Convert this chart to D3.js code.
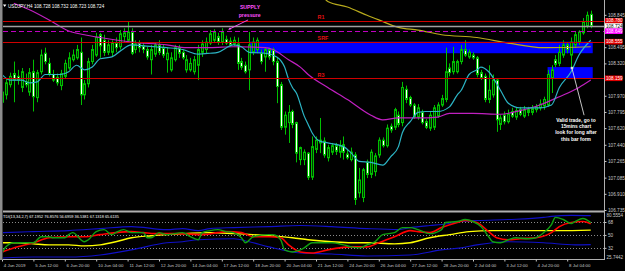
<!DOCTYPE html>
<html><head><meta charset="utf-8">
<script src="https://cdn.jsdelivr.net/npm/d3@7"></script>
<style>
html,body{margin:0;padding:0;background:#000;}
svg{display:block;font-family:"Liberation Sans",Arial,sans-serif;}
</style></head><body>
<svg id="chart" width="625" height="271"></svg>
<script>
// USDJPY H4 with MAs, S/R lines, zones + TDI sub-window.
const CANDLES = [ // [open, high, low, close]
[107.90,108.06,107.85,108.01],[107.98,108.16,107.93,108.11],[108.09,108.22,108.06,108.18],[108.21,108.34,107.90,108.14],
[108.18,108.25,108.09,108.14],[108.06,108.27,108.01,108.23],[108.12,108.21,108.06,108.09],[108.01,108.27,107.97,108.22],
[108.23,108.36,107.80,107.96],[107.95,108.25,107.90,108.22],[108.23,108.47,108.20,108.41],[108.43,108.49,108.31,108.34],
[108.32,108.38,108.18,108.21],[108.20,108.25,108.12,108.14],[108.17,108.21,108.08,108.11],[108.08,108.25,108.03,108.21],
[108.18,108.36,108.16,108.32],[108.27,108.44,108.25,108.38],[108.36,108.47,108.34,108.41],[108.38,108.52,108.36,108.47],
[108.44,108.60,107.87,107.98],[107.98,108.14,107.93,108.10],[108.10,108.38,108.06,108.34],[108.34,108.52,108.31,108.47],
[108.41,108.65,108.39,108.60],[108.63,108.65,108.38,108.51],[108.57,108.63,108.40,108.44],[108.44,108.57,108.41,108.52],
[108.44,108.57,108.40,108.54],[108.54,108.60,108.44,108.49],[108.50,108.68,108.47,108.64],[108.61,108.70,108.55,108.65],
[108.57,108.77,108.55,108.66],[108.66,108.70,108.41,108.43],[108.47,108.57,108.43,108.53],[108.54,108.57,108.44,108.49],
[108.51,108.55,108.43,108.47],[108.47,108.50,108.36,108.39],[108.36,108.52,108.20,108.47],[108.42,108.55,108.39,108.52],
[108.52,108.57,108.41,108.44],[108.49,108.52,108.38,108.41],[108.36,108.49,108.22,108.43],[108.25,108.44,108.23,108.38],
[108.36,108.52,108.34,108.49],[108.49,108.52,108.38,108.43],[108.44,108.47,108.36,108.38],[108.25,108.41,108.22,108.36],
[108.25,108.38,108.23,108.32],[108.23,108.40,108.20,108.36],[108.30,108.52,108.14,108.47],[108.44,108.57,108.39,108.53],
[108.47,108.60,108.43,108.55],[108.54,108.68,108.52,108.64],[108.57,108.69,108.54,108.66],[108.61,108.65,108.52,108.55],
[108.55,108.70,108.52,108.66],[108.58,108.62,108.52,108.54],[108.56,108.60,108.50,108.52],[108.53,108.61,108.51,108.57],
[108.53,108.60,108.25,108.32],[108.34,108.38,108.25,108.28],[108.30,108.34,108.21,108.23],[108.25,108.66,108.03,108.52],
[108.44,108.60,108.41,108.55],[108.47,108.60,108.43,108.57],[108.43,108.47,108.31,108.34],[108.39,108.49,108.23,108.47],
[108.47,108.49,108.36,108.39],[108.47,108.49,108.30,108.34],[108.34,108.38,107.89,108.07],[108.09,108.12,107.60,107.63],
[107.63,107.80,107.55,107.76],[107.68,107.87,107.46,107.79],[107.80,107.82,107.62,107.66],[107.68,107.69,107.25,107.35],
[107.28,107.42,107.22,107.41],[107.28,107.39,107.22,107.36],[107.35,107.36,107.06,107.09],[107.09,107.53,107.06,107.42],
[107.39,107.53,107.35,107.49],[107.49,107.73,107.35,107.46],[107.48,107.52,107.30,107.33],[107.30,107.44,107.26,107.41],
[107.36,107.46,107.33,107.43],[107.43,107.46,107.33,107.37],[107.36,107.49,107.30,107.43],[107.44,107.53,107.28,107.36],
[107.34,107.39,107.28,107.30],[107.28,107.41,107.26,107.36],[107.33,107.36,106.79,106.85],[106.92,107.19,106.87,107.06],
[106.87,107.19,106.82,107.17],[107.25,107.28,107.08,107.12],[107.12,107.39,107.08,107.36],[107.15,107.35,107.10,107.32],
[107.33,107.52,107.30,107.49],[107.49,107.52,107.41,107.43],[107.43,107.66,107.41,107.62],[107.64,107.67,107.57,107.60],
[107.63,107.84,107.60,107.82],[107.76,107.80,107.63,107.66],[107.68,108.12,107.64,108.06],[108.04,108.08,107.89,107.93],
[107.95,107.97,107.85,107.87],[107.87,107.89,107.72,107.74],[107.74,107.88,107.71,107.84],[107.79,107.82,107.66,107.68],
[107.69,107.72,107.61,107.63],[107.62,107.80,107.59,107.76],[107.63,107.87,107.60,107.84],[107.75,107.90,107.73,107.87],
[107.87,107.98,107.85,107.94],[107.93,108.49,107.90,108.23],[108.27,108.32,108.18,108.22],[108.23,108.50,108.20,108.34],
[108.23,108.36,108.21,108.34],[108.34,108.52,108.31,108.47],[108.47,108.57,108.39,108.41],[108.39,108.47,108.37,108.44],
[108.41,108.44,108.36,108.38],[108.38,108.40,108.17,108.20],[108.22,108.25,108.14,108.16],[108.18,108.21,107.90,107.93],
[107.93,108.30,107.89,108.03],[107.98,108.20,107.95,108.14],[108.14,108.16,107.58,107.71],[107.66,107.76,107.60,107.73],
[107.76,107.80,107.66,107.69],[107.69,107.82,107.67,107.77],[107.80,107.84,107.73,107.75],[107.74,107.84,107.71,107.81],
[107.82,107.85,107.75,107.77],[107.75,107.86,107.73,107.82],[107.82,107.85,107.75,107.79],[107.79,107.87,107.76,107.83],
[107.82,107.88,107.79,107.85],[107.84,107.93,107.81,107.88],[107.86,107.96,107.82,107.93],[107.87,108.25,107.85,108.20],
[108.16,108.30,108.00,108.25],[108.36,108.41,108.28,108.31],[108.32,108.52,108.29,108.44],[108.41,108.57,108.38,108.52],
[108.52,108.55,108.43,108.47],[108.41,108.60,108.27,108.55],[108.52,108.66,108.49,108.63],[108.55,108.68,108.52,108.66],
[108.65,108.81,108.63,108.77],[108.72,108.88,108.70,108.84],[108.85,108.89,108.70,108.72]
];

// moving averages: [bar index, price]
const MA_FAST = [[0,108.20],[2,108.14],[5,108.14],[7,108.11],[9,108.12],[11,108.20],[15,108.20],[17,108.23],[19,108.30],[21,108.25],[23,108.28],[25,108.37],[28,108.39],[30,108.45],[33,108.52],[36,108.51],[39,108.50],[42,108.49],[46,108.47],[50,108.42],[53,108.43],[55,108.44],[59,108.52],[61,108.50],[63,108.44],[67,108.43],[70,108.39],[72,108.28],[73,108.15],[74,108.06],[75,108.00],[77,107.75],[78,107.66],[79,107.57],[80,107.51],[81,107.48],[83,107.46],[87,107.42],[89,107.35],[91,107.26],[94,107.25],[97,107.22],[99,107.31],[101,107.42],[102,107.57],[104,107.69],[106,107.79],[108,107.80],[111,107.80],[114,107.85],[116,107.98],[117,108.03],[119,108.20],[121,108.25],[122,108.28],[124,108.23],[127,108.03],[129,107.89],[132,107.84],[137,107.84],[140,107.87],[142,108.06],[145,108.23],[147,108.41],[150,108.57]];
const MA_MID = [[3,108.97],[7,108.90],[12,108.79],[17,108.67],[21,108.63],[25,108.60],[33,108.55],[42,108.52],[47,108.49],[53,108.49],[59,108.50],[67,108.49],[69,108.47],[73,108.36],[76,108.28],[78,108.20],[83,108.06],[88,107.93],[94,107.76],[97,107.71],[101,107.73],[106,107.73],[111,107.74],[114,107.78],[120,107.78],[127,107.77],[132,107.81],[137,107.87],[142,107.96],[147,108.06],[150,108.14]];
const MA_SLOW = [[82,109.03],[83,108.99],[88,108.93],[93,108.84],[96,108.79],[101,108.71],[106,108.68],[112,108.63],[121,108.60],[129,108.54],[138,108.49],[150,108.50]];

const LEVELS = [{name:"R1", price:108.780, label:"108.780"}, {name:"SRF", price:108.555, label:"108.555"}, {name:"R3", price:108.159, label:"108.159"}];
const BID = {price:108.724, label:"108.724"};
const DASH_LEVEL = {price:108.668, label:"108.649"};
const ZONES = [{from:63, to:150.5, top:108.555, bottom:108.43}, {from:139, to:150.5, top:108.28, bottom:108.159}];
// 108.670 and 108.145 sit under the marker boxes, so they are not shown
const PRICE_TICKS = [106.735,106.910,107.085,107.265,107.440,107.620,107.795,107.970,108.320,108.495,108.845];
const TIME_LABELS = ["4 Jun 2019","5 Jun 12:00","6 Jun 20:00","10 Jun 04:00","11 Jun 12:00","12 Jun 20:00","14 Jun 04:00","17 Jun 12:00","18 Jun 20:00","20 Jun 04:00","21 Jun 12:00","24 Jun 20:00","26 Jun 04:00","27 Jun 12:00","28 Jun 20:00","2 Jul 04:00","3 Jul 12:00","4 Jul 20:00","8 Jul 04:00"];
const NOTE_LINES = ["Valid trade, go to","15mins chart","look for long after","this bar form"];

// TDI: [bar index, value]
const TDI_RSI = [[0,24.9],[1,33.4],[3,39.1],[5,39.1],[8,39.1],[10,47.5],[12,47.5],[13,46.1],[16,46.1],[17,50.4],[18,53.2],[21,40.5],[22,43.3],[24,54.6],[26,57.4],[28,50.4],[29,53.2],[31,57.4],[33,53.2],[36,53.2],[37,46.1],[38,46.1],[40,53.2],[42,50.4],[46,53.2],[48,47.5],[50,43.3],[51,53.2],[53,56.0],[55,57.4],[57,54.6],[59,53.2],[61,46.1],[62,39.1],[64,47.5],[68,50.4],[69,50.4],[71,43.3],[72,29.2],[74,26.3],[76,29.2],[77,32.0],[79,39.1],[81,39.1],[84,39.1],[87,36.2],[89,33.4],[91,32.0],[93,36.2],[95,40.5],[97,50.4],[100,53.2],[102,60.2],[104,60.2],[106,57.4],[109,51.8],[112,57.4],[113,67.3],[116,68.7],[118,71.5],[120,68.7],[122,61.6],[124,47.5],[125,40.5],[127,39.1],[129,43.3],[131,46.1],[134,44.7],[136,46.1],[138,53.2],[140,64.5],[141,74.4],[143,71.5],[145,65.9],[146,68.7],[148,72.9],[150,67.13]];
const TDI_SIGNAL = [[0,26.3],[4,33.4],[8,39.1],[12,46.1],[17,47.5],[21,47.5],[25,50.4],[29,53.2],[33,54.6],[36,53.2],[39,51.8],[45,51.8],[51,50.4],[55,53.2],[57,54.6],[61,53.2],[64,47.5],[68,47.5],[71,46.1],[73,36.2],[76,26.3],[79,24.9],[83,29.2],[86,32.0],[89,33.4],[93,33.4],[96,39.1],[100,47.5],[104,56.0],[106,54.6],[109,53.2],[112,60.2],[116,67.3],[118,70.1],[121,67.3],[124,54.6],[126,46.1],[129,43.3],[132,44.7],[136,46.1],[140,53.2],[142,61.6],[145,67.3],[148,68.7],[150,65.61]];
const TDI_BASE = [[0,39.1],[4,39.1],[8,37.6],[12,36.2],[17,36.2],[21,34.8],[25,36.2],[29,40.5],[33,46.1],[38,48.9],[42,50.4],[46,51.8],[53,53.2],[59,51.8],[68,48.9],[74,46.1],[78,43.3],[84,40.5],[89,39.1],[93,39.1],[100,37.6],[104,39.1],[109,46.1],[114,50.4],[119,54.6],[125,56.0],[134,56.0],[142,56.0],[150,56.70]];
const TDI_UPPER = [[0,53.2],[8,54.6],[17,56.0],[25,58.8],[33,61.6],[42,57.4],[46,58.8],[50,56.0],[53,58.8],[59,60.2],[68,61.6],[76,63.1],[84,61.6],[93,58.8],[101,57.4],[104,60.2],[109,63.1],[112,64.5],[117,68.7],[121,70.1],[129,71.5],[138,74.4],[140,75.8],[145,77.2],[150,76.86]];
const TDI_LOWER = [[0,17.9],[8,19.3],[17,19.3],[25,22.1],[33,29.2],[42,39.1],[46,40.5],[50,43.3],[59,44.7],[63,40.5],[68,33.4],[76,24.9],[84,23.5],[93,20.7],[104,22.1],[112,29.2],[117,32.0],[121,36.2],[125,39.1],[129,40.5],[138,39.1],[146,36.2],[150,36.54]];
const TDI_LEVELS = [68, 50, 32];
const TDI_RANGE = ["80.5554", "25.7442"];

const FONT = '"Liberation Sans",Arial,sans-serif';
const svg = d3.select("#chart");
const defs = svg.append("defs");
defs.append("clipPath").attr("id", "clipMain").append("rect").attr("x", 3).attr("y", 0).attr("width", 601).attr("height", 210);
defs.append("clipPath").attr("id", "clipTdi").append("rect").attr("x", 3).attr("y", 213).attr("width", 601).attr("height", 46);

svg.append("rect").attr("width", 625).attr("height", 271).attr("fill", "#000");

const x = d3.scaleLinear().domain([0, 150]).range([2, 590.75]);
const y = d3.scaleLinear().domain([106.735, 108.973]).range([210, 3]);
const yT = d3.scaleLinear().domain([16.47, 80.5554]).range([259, 213]);
const px = v => Math.round(v) + 0.5;

// ---------- main window ----------
const gMain = svg.append("g").attr("clip-path", "url(#clipMain)");

gMain.selectAll("rect.zone").data(ZONES).join("rect").attr("class", "zone")
  .attr("x", d => x(d.from)).attr("width", d => x(d.to) - x(d.from))
  .attr("y", d => y(d.top)).attr("height", d => y(d.bottom) - y(d.top))
  .attr("fill", "#0000ff");

const gC = gMain.append("g");
CANDLES.forEach((c, i) => {
  const [o, h, l, cl] = c, cx = px(x(i)), bull = cl >= o;
  gC.append("line").attr("x1", cx).attr("x2", cx).attr("y1", y(h)).attr("y2", y(l))
    .attr("stroke", "#00c000").attr("stroke-width", 1);
  const top = y(Math.max(o, cl)), bot = y(Math.min(o, cl));
  gC.append("rect").attr("x", cx - 1).attr("width", 2)
    .attr("y", top).attr("height", Math.max(bot - top, 0.6))
    .attr("fill", bull ? "#003800" : "#ffffff").attr("stroke", "#00c000").attr("stroke-width", 1);
});

const maLine = d3.line().x(d => x(d[0])).y(d => y(d[1])).curve(d3.curveMonotoneX);
gMain.append("path").datum(MA_SLOW).attr("d", maLine).attr("fill", "none").attr("stroke", "#b8aa1c").attr("stroke-width", 1.2);
gMain.append("path").datum(MA_MID).attr("d", maLine).attr("fill", "none").attr("stroke", "#c020c0").attr("stroke-width", 1.2);
gMain.append("path").datum(MA_FAST).attr("d", maLine).attr("fill", "none").attr("stroke", "#2cb4c4").attr("stroke-width", 1.2);

// horizontal levels
gMain.selectAll("line.lvl").data(LEVELS).join("line").attr("class", "lvl")
  .attr("x1", 3).attr("x2", 604).attr("y1", d => px(y(d.price))).attr("y2", d => px(y(d.price)))
  .attr("stroke", "#d00000").attr("stroke-width", 1);
gMain.append("line").attr("x1", 3).attr("x2", 604).attr("y1", px(y(BID.price))).attr("y2", px(y(BID.price)))
  .attr("stroke", "#a0a0a0").attr("stroke-width", 1.3);
gMain.append("line").attr("x1", 3).attr("x2", 604).attr("y1", px(y(DASH_LEVEL.price))).attr("y2", px(y(DASH_LEVEL.price)))
  .attr("stroke", "#c000c0").attr("stroke-width", 1).attr("stroke-dasharray", "5,3");

gMain.selectAll("text.lvl").data(LEVELS).join("text").attr("class", "lvl")
  .attr("x", x(80.4)).attr("y", d => y(d.price) - 1.6)
  .attr("fill", "#e01010").attr("font-size", 5.4).attr("font-weight", "bold").attr("font-family", FONT)
  .text(d => d.name);

// supply note + arrow
const gS = gMain.append("g").attr("fill", "#ff50ff").attr("font-size", 5.2).attr("font-weight", "bold").attr("font-family", FONT).attr("text-anchor", "middle");
gS.append("text").attr("x", x(63.2)).attr("y", y(108.905)).text("SUPPLY");
gS.append("text").attr("x", x(63.1)).attr("y", y(108.825)).text("pressure");
gMain.append("line").attr("x1", x(62.7)).attr("y1", y(108.79)).attr("x2", x(57.9)).attr("y2", y(108.69))
  .attr("stroke", "#ff50ff").attr("stroke-width", 0.9);
gMain.append("path").attr("d", `M${x(57.6)},${y(108.685)}l3.2,-0.4l-1.2,-2z`).attr("fill", "#ff50ff");

// trade note + pointer
gMain.append("line").attr("x1", x(145.2)).attr("y1", y(108.27)).attr("x2", x(148.3)).attr("y2", y(107.76))
  .attr("stroke", "#d8d8d8").attr("stroke-width", 0.9);
gMain.append("rect").attr("x", x(145.2) - 1.2).attr("y", y(108.27) - 1.2).attr("width", 2.4).attr("height", 2.4).attr("fill", "#e0e0e0");
gMain.append("g").attr("fill", "#ffffff").attr("font-size", 4.9).attr("font-weight", "bold").attr("font-family", FONT).attr("text-anchor", "middle")
  .selectAll("text").data(NOTE_LINES).join("text")
  .attr("x", 576).attr("y", (d, i) => 121.5 + i * 6.4).text(d => d);

// title
svg.append("path").attr("d", "M3,4.5h3.4l-1.7,2.4z").attr("fill", "#ffffff");
svg.append("text").attr("x", 8).attr("y", 8).attr("fill", "#ffffff").attr("font-size", 4.6).attr("font-family", FONT)
  .text("USDJPY,H4  108.728 108.732 108.723 108.724");

// ---------- TDI window ----------
const gT = svg.append("g").attr("clip-path", "url(#clipTdi)");
gT.selectAll("line.lv").data(TDI_LEVELS).join("line").attr("class", "lv")
  .attr("x1", 3).attr("x2", 604).attr("y1", d => px(yT(d))).attr("y2", d => px(yT(d)))
  .attr("stroke", "#8a8a8a").attr("stroke-width", 1).attr("stroke-dasharray", "1,2");
const tLine = d3.line().x(d => x(d[0])).y(d => yT(d[1])).curve(d3.curveMonotoneX);
[[TDI_UPPER, "#1010c8", 1.1], [TDI_LOWER, "#1010c8", 1.1], [TDI_BASE, "#ffff00", 1.4], [TDI_SIGNAL, "#ff0000", 1.6], [TDI_RSI, "#10a010", 1.4]]
  .forEach(([data, col, w]) => gT.append("path").datum(data).attr("d", tLine).attr("fill", "none").attr("stroke", col).attr("stroke-width", w));
svg.append("text").attr("x", 3).attr("y", 218).attr("fill", "#ffffff").attr("font-size", 3.9).attr("font-family", FONT)
  .text("TDI(13,34,2,7) 67.1952 76.8576 56.6959 36.5381 67.1318 65.6135");

// ---------- frame ----------
svg.append("rect").attr("x", 0).attr("y", 0).attr("width", 2.5).attr("height", 260).attr("fill", "#8c8c8c");
svg.append("rect").attr("x", 3).attr("y", 210.5).attr("width", 601).attr("height", 2).attr("fill", "#b0b0b0");
svg.append("line").attr("x1", 604.5).attr("x2", 604.5).attr("y1", 0).attr("y2", 260).attr("stroke", "#b0b0b0");
svg.append("line").attr("x1", 3).attr("x2", 605).attr("y1", 259.5).attr("y2", 259.5).attr("stroke", "#b0b0b0");

// price axis
const gAx = svg.append("g").attr("transform", "translate(604.5,0)")
  .call(d3.axisRight(y).tickValues(PRICE_TICKS).tickFormat(d3.format(".3f")).tickSize(2).tickPadding(1.5));
gAx.select(".domain").remove();
gAx.attr("font-size", 4.7).attr("font-family", FONT).style("color", "#c8c8c8");

// price marker boxes
const marks = LEVELS.map(d => ({p: d.price, t: d.label, bg: "#e00000", fg: "#ffffff"}))
  .concat([{p: BID.price, t: BID.label, bg: "#ffffff", fg: "#000000"}, {p: DASH_LEVEL.price, t: DASH_LEVEL.label, bg: "#ff00ff", fg: "#ffffff"}]);
const gM = svg.append("g").selectAll("g").data(marks).join("g").attr("transform", d => `translate(605,${y(d.p)})`);
gM.append("rect").attr("x", 0).attr("y", -2.8).attr("width", 17.5).attr("height", 5.6).attr("fill", d => d.bg);
gM.append("text").attr("x", 1).attr("dy", "0.35em").attr("font-size", 4.6).attr("font-family", FONT).attr("fill", d => d.fg).text(d => d.t);

// TDI axis
const gTa = svg.append("g").attr("transform", "translate(604.5,0)")
  .call(d3.axisRight(yT).tickValues(TDI_LEVELS).tickSize(2).tickPadding(1.5));
gTa.select(".domain").remove();
gTa.attr("font-size", 4.7).attr("font-family", FONT).style("color", "#c8c8c8");
svg.append("g").attr("fill", "#c8c8c8").attr("font-size", 4.6).attr("font-family", FONT)
  .selectAll("text").data(TDI_RANGE).join("text")
  .attr("x", 606.5).attr("y", (d, i) => i === 0 ? 216.5 : 259).text(d => d);

// time axis
const gX = svg.append("g").attr("transform", "translate(0,259.5)")
  .call(d3.axisBottom(x).tickValues(TIME_LABELS.map((d, i) => i * 8)).tickFormat((d, i) => TIME_LABELS[i]).tickSize(2).tickPadding(2.5));
gX.select(".domain").remove();
gX.attr("font-size", 4.4).attr("font-family", FONT).style("color", "#c8c8c8");
gX.selectAll("text").attr("text-anchor", "start").attr("dx", "0.3em");
</script>
</body></html>
